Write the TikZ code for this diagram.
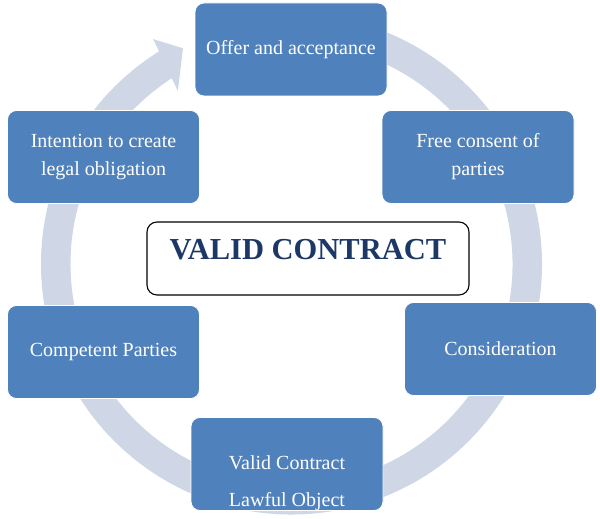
\documentclass[tikz,border=0pt]{standalone}
\usepackage{fontspec}
\setmainfont{Liberation Serif}
\usetikzlibrary{calc}
\definecolor{boxblue}{RGB}{79,129,189}
\definecolor{ringc}{RGB}{207,214,230}
\definecolor{titleblue}{RGB}{28,56,102}
\tikzset{
  cbox/.style={rectangle, rounded corners=9pt, fill=boxblue, draw=white, line width=0.8pt,
    minimum width=192pt, minimum height=93pt, text=white,
    font=\fontsize{20}{28}\selectfont, align=center, inner sep=0pt},
  btext/.style={text=white, font=\fontsize{20}{28}\selectfont, inner sep=0pt, anchor=base},
  centerbox/.style={rectangle, rounded corners=10pt, fill=white, draw=black, line width=1.1pt,
    minimum width=322pt, minimum height=73pt, inner sep=0pt},
  titletext/.style={text=titleblue, font=\fontsize{30.5}{33}\selectfont\bfseries, inner sep=0pt, anchor=base}
}
\begin{document}
\begin{tikzpicture}[x=1pt,y=1pt]
\useasboundingbox (0,0) rectangle (600,519);
\coordinate (c) at (291.5,255);
% ring with arrow
\draw[ringc, line width=29.5pt] ($(c)+(100:235.75)$) arc[start angle=100, end angle=-238.5, radius=235.75];
\fill[ringc] ($(c)+(123.3:207)$) -- ($(c)+(121.6:264)$) -- ($(c)+(116.7:241.5)$) -- cycle;
% boxes
\node[cbox] (offer) at (291,469.5) {Offer and acceptance};
\node[cbox] (free) at (478,362) {Free consent of\\parties};
\node[cbox] (cons) at (500.5,170) {Consideration};
\node[cbox] (lawful) at (287,55) {};
\node[btext] (lawa) at (287,49) {Valid Contract};
\node[btext] (lawb) at (287,12) {Lawful Object};
\node[cbox] (comp) at (103.5,167) {Competent Parties};
\node[cbox] (intent) at (103.5,362) {Intention to create\\legal obligation};
% centre
\node[centerbox] (vc) at (308,260.5) {};
\node[titletext] (vct) at (308,259) {VALID CONTRACT};
\end{tikzpicture}
\end{document}
